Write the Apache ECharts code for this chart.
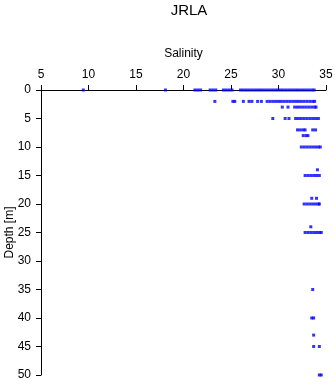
<!DOCTYPE html>
<html><head><meta charset="utf-8">
<script src="https://cdn.jsdelivr.net/npm/echarts@6/dist/echarts.min.js"></script>
<style>html,body{margin:0;padding:0;background:#fff}#c{width:335px;height:384px}</style>
</head><body><div id="c"></div>
<script>
const title = 'JRLA';
const xTicks = [5, 10, 15, 20, 25, 30, 35];
const yTicks = [0, 5, 10, 15, 20, 25, 30, 35, 40, 45, 50];
// depth rows (m)
const depths = [0, 2, 3, 5, 7, 8, 10, 14, 15, 19, 20, 24, 25, 35, 40, 43, 45, 50];
// salinity readings per depth row
const sal0 = [9.45, 18.1, 21.2, 21.5, 21.8, 22.8, 23.1, 23.4, 24.2, 24.5, 24.8, 25.1,
  26.0, 26.3, 26.6, 26.9, 27.2, 27.5, 27.8, 28.1, 28.4, 28.7, 29.0, 29.3, 29.6, 29.9,
  30.2, 30.5, 30.8, 31.1, 31.4, 31.7, 32.0, 32.3, 32.6, 32.9, 33.2, 33.5, 33.75];
const sal2 = [23.3, 25.2, 25.4, 26.3, 26.9, 27.2, 27.8, 28.2, 28.8, 29.1, 29.4, 29.7,
  30.0, 30.3, 30.6, 30.9, 31.2, 31.5, 31.8, 32.1, 32.4, 32.7, 33.0, 33.3, 33.6, 33.8];
const sal3 = [30.4, 31.0, 31.7, 32.0, 32.3, 32.6, 32.9, 33.2, 33.5, 33.8, 33.95];
const sal5 = [29.4, 30.7, 31.1, 31.8, 32.1, 32.4, 32.7, 33.0, 33.3, 33.6, 33.9, 34.2];
const sal7 = [32.0, 32.3, 32.6, 32.8, 33.6, 33.9];
const sal8 = [32.6, 32.9, 33.1];
const sal10 = [32.4, 32.7, 33.0, 33.3, 33.6, 33.9, 34.2, 34.4];
const sal14 = [34.1];
const sal15 = [32.8, 33.1, 33.4, 33.7, 34.0, 34.3];
const sal19 = [33.5, 34.0];
const sal20 = [32.7, 33.0, 33.3, 33.6, 33.9, 34.2, 34.3];
const sal24 = [33.4];
const sal25 = [32.8, 33.1, 33.4, 33.7, 34.0, 34.3, 34.5];
const sal35 = [33.6];
const sal40 = [33.5, 33.7];
const sal43 = [33.7];
const sal45 = [33.7, 34.3];
const sal50 = [34.3, 34.5];
const salinityRows = [sal0, sal2, sal3, sal5, sal7, sal8, sal10, sal14, sal15, sal19,
  sal20, sal24, sal25, sal35, sal40, sal43, sal45, sal50];

const points = [];
depths.forEach((d, i) => salinityRows[i].forEach(s => points.push([s, d])));

const FONT = 'Liberation Sans, Arial, sans-serif';
const chart = echarts.init(document.getElementById('c'), null, {renderer: 'canvas'});
chart.setOption({
  animation: false,
  backgroundColor: '#ffffff',
  title: {
    text: title, left: 184, top: -2, textAlign: 'center',
    textStyle: {fontFamily: FONT, fontSize: 15, fontWeight: 'normal', color: '#000'}
  },
  grid: {left: 41, top: 90, width: 285, height: 285, containLabel: false, outerBoundsMode: 'none'},
  xAxis: {
    type: 'value', position: 'top', min: xTicks[0], max: xTicks[xTicks.length - 1], interval: 5,
    name: 'Salinity', nameLocation: 'middle', nameGap: 30, nameMoveOverlap: false,
    nameTextStyle: {fontFamily: FONT, fontSize: 12, color: '#000'},
    axisLine: {show: true, lineStyle: {color: '#000', width: 1}},
    axisTick: {show: true, length: 5, lineStyle: {color: '#000'}},
    axisLabel: {fontFamily: FONT, fontSize: 12, color: '#000', margin: 9},
    splitLine: {show: false}
  },
  yAxis: {
    type: 'value', inverse: true, min: yTicks[0], max: yTicks[yTicks.length - 1], interval: 5,
    name: 'Depth [m]', nameLocation: 'middle', nameGap: 25, nameMoveOverlap: false,
    nameTextStyle: {fontFamily: FONT, fontSize: 12, color: '#000'},
    axisLine: {show: true, onZero: false, lineStyle: {color: '#000', width: 1}},
    axisTick: {show: true, length: 5, lineStyle: {color: '#000'}},
    axisLabel: {fontFamily: FONT, fontSize: 12, color: '#000', margin: 10},
    splitLine: {show: false}
  },
  series: [{
    type: 'scatter', data: points, symbol: 'rect', symbolSize: [3, 3],
    itemStyle: {color: '#0000ff'}, emphasis: {disabled: true}
  }]
});
</script></body></html>
